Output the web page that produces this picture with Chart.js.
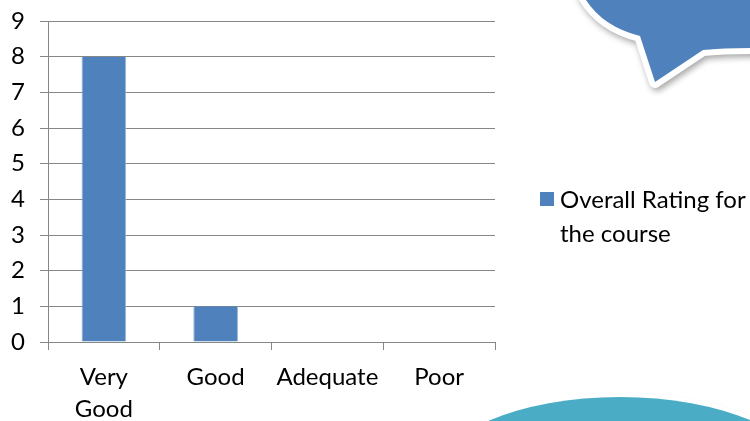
<!DOCTYPE html>
<html>
<head>
<meta charset="utf-8">
<script src="https://cdn.jsdelivr.net/npm/chart.js@4.4.1/dist/chart.umd.min.js"></script>
<style>
  html, body { margin: 0; padding: 0; background: #fff; }
  #wrap { width: 750px; height: 421px; position: relative; }
</style>
</head>
<body>
<div id="wrap"><canvas id="ratingChart" width="750" height="421"></canvas></div>
<script>
// data
const categories = [["Very", "Good"], "Good", "Adequate", "Poor"];
const ratingCounts = [8, 1, 0, 0];
const seriesName = ["Overall Rating for", "the course"];
const yTicks = [0, 1, 2, 3, 4, 5, 6, 7, 8, 9];

const FONT = "Lato, 'Liberation Sans', sans-serif";
const BLUE = "#4F81BD";

// background shapes (speech bubble + teal ellipse) and the wrapped legend
const decoPlugin = {
    id: "deco",
    beforeDraw(chart) {
        const ctx = chart.ctx;
        ctx.save();
        // speech bubble top right
        ctx.beginPath();
        ctx.moveTo(583, -5);
        ctx.quadraticCurveTo(600, 26, 640, 36);
        ctx.lineTo(655, 82);
        ctx.lineTo(703, 50);
        ctx.quadraticCurveTo(725, 48, 760, 48);
        ctx.lineTo(760, -5);
        ctx.closePath();
        ctx.shadowColor = "rgba(0,0,0,0.35)";
        ctx.shadowBlur = 6;
        ctx.shadowOffsetX = 2;
        ctx.shadowOffsetY = 3;
        ctx.fillStyle = "#fff";
        ctx.strokeStyle = "#fff";
        ctx.lineWidth = 12;
        ctx.lineJoin = "round";
        ctx.stroke();
        ctx.shadowColor = "transparent";
        ctx.fillStyle = BLUE;
        ctx.fill();

        // teal ellipse bottom right
        ctx.beginPath();
        ctx.ellipse(620, 478, 186, 81, 0, 0, Math.PI * 2);
        ctx.shadowColor = "rgba(0,0,0,0.12)";
        ctx.shadowBlur = 5;
        ctx.fillStyle = "#fff";
        ctx.strokeStyle = "#fff";
        ctx.lineWidth = 8;
        ctx.stroke();
        ctx.shadowColor = "transparent";
        ctx.fillStyle = "#4BACC6";
        ctx.fill();
        ctx.restore();
    },
    afterDraw(chart) {
        const ctx = chart.ctx;
        const ds = chart.data.datasets[0];
        ctx.save();
        ctx.fillStyle = ds.backgroundColor;
        ctx.fillRect(540, 192, 14, 14);
        ctx.fillStyle = "#000";
        ctx.font = "24px " + FONT;
        ctx.textBaseline = "middle";
        ds.label.forEach((line, i) => ctx.fillText(line, 560, 200 + i * 34));
        ctx.restore();
    }
};

new Chart(document.getElementById("ratingChart"), {
    type: "bar",
    data: {
        labels: categories,
        datasets: [
            {
                label: seriesName,
                data: ratingCounts,
                backgroundColor: BLUE,
                borderColor: "#9BB7DA",
                borderWidth: { left: 1, right: 1, top: 0, bottom: 0 },
                barPercentage: 0.4,
                categoryPercentage: 1,
            },
        ],
    },
    options: {
        responsive: false,
        animation: false,
        layout: { padding: { top: 21, right: 255, left: 0, bottom: 0 } },
        plugins: { legend: { display: false }, tooltip: { enabled: false } },
        scales: {
            y: {
                min: 0,
                max: 9,
                afterBuildTicks: (axis) => { axis.ticks = yTicks.map((v) => ({ value: v })); },
                afterFit: (axis) => { axis.width = 48; },
                border: { color: "#868686", width: 1 },
                grid: { color: "#868686", lineWidth: 1, tickLength: 8 },
                ticks: { color: "#000", font: { family: FONT, size: 24, lineHeight: 0.5 }, padding: 15 },
            },
            x: {
                afterFit: (axis) => { axis.height = 79; },
                border: { color: "#868686", width: 1 },
                grid: { color: "#868686", drawOnChartArea: false, tickLength: 8, offset: true },
                ticks: { color: "#000", font: { family: FONT, size: 24, lineHeight: 1.3 }, padding: 12, maxRotation: 0 },
            },
        },
    },
    plugins: [decoPlugin],
});
</script>
</body>
</html>
